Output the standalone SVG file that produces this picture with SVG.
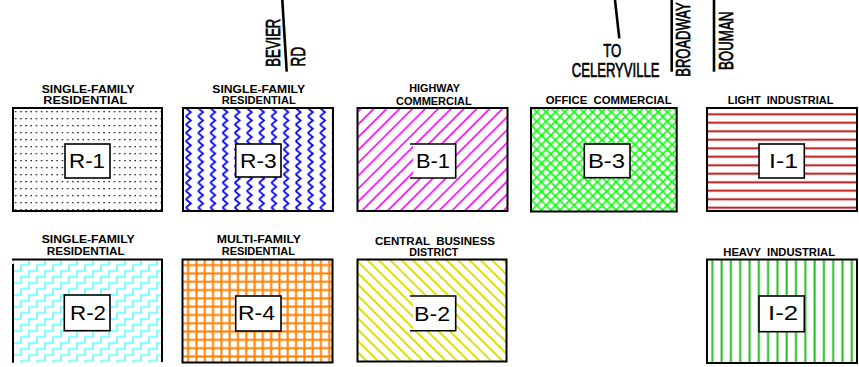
<svg xmlns="http://www.w3.org/2000/svg" width="859" height="367" viewBox="0 0 859 367">
<style>
.frame{fill:none;stroke:#000;stroke-width:2}
.lbox{fill:#fff;stroke:#000;stroke-width:1.6}
.lbl{font-family:"Liberation Sans",Arial,sans-serif;font-size:21px;fill:#000}
.ttl{font-family:"Liberation Sans",Arial,sans-serif;font-size:11.5px;font-weight:bold;fill:#000;white-space:pre}
.road{font-family:"Liberation Sans",Arial,sans-serif;fill:#000;stroke:#000;stroke-width:0.45}
.rl{stroke:#000;stroke-width:2.6;fill:none}
</style>
<defs>
<pattern id="pDots" patternUnits="userSpaceOnUse" width="5.2" height="7" x="13" y="108">
<rect x="2" y="3" width="1.3" height="1.3" fill="#000"/>
</pattern>
<pattern id="pZig" patternUnits="userSpaceOnUse" width="12.2" height="8.3" x="185.3" y="108">
<path d="M0.5,0 L5.5,4.15 L0.5,8.3" fill="none" stroke="#0000ff" stroke-width="1.8"/>
</pattern>
<pattern id="pMag" patternUnits="userSpaceOnUse" width="9.1" height="10" patternTransform="rotate(45)">
<line x1="4.5" y1="-1" x2="4.5" y2="11" stroke="#ff00ff" stroke-width="1.6"/>
</pattern>
<pattern id="pCross" patternUnits="userSpaceOnUse" width="6.6" height="6.6" patternTransform="rotate(45)">
<line x1="3.3" y1="-1" x2="3.3" y2="7.6" stroke="#00ff00" stroke-width="1.6"/>
<line x1="-1" y1="3.3" x2="7.6" y2="3.3" stroke="#00ff00" stroke-width="1.6"/>
</pattern>
<pattern id="pRed" patternUnits="userSpaceOnUse" width="10" height="8.5" x="0" y="110">
<line x1="-1" y1="4.25" x2="11" y2="4.25" stroke="#b80000" stroke-width="1.8"/>
</pattern>
<pattern id="pStair" patternUnits="userSpaceOnUse" width="16" height="12" x="13" y="259">
<path d="M-8,18 H0 V12 H8 V6 H16 V0 H24 V-6 M-8,6 H0 V0 H8 V-6 H16 V-12 H24 V-18 M-8,30 H0 V24 H8 V18 H16 V12 H24 V6" fill="none" stroke="#66ffff" stroke-width="1.7"/>
</pattern>
<pattern id="pGrid" patternUnits="userSpaceOnUse" width="8.3" height="8.3" x="184" y="261">
<line x1="4.15" y1="-1" x2="4.15" y2="9.3" stroke="#ff7f00" stroke-width="2"/>
<line x1="-1" y1="4.15" x2="9.3" y2="4.15" stroke="#ff7f00" stroke-width="2"/>
</pattern>
<pattern id="pYel" patternUnits="userSpaceOnUse" width="8" height="10" patternTransform="rotate(-45)">
<line x1="4" y1="-1" x2="4" y2="11" stroke="#e0e000" stroke-width="2"/>
</pattern>
<pattern id="pGreen" patternUnits="userSpaceOnUse" width="9.3" height="10" x="708" y="0">
<line x1="4.3" y1="-1" x2="4.3" y2="11" stroke="#22bb22" stroke-width="2"/>
</pattern>
</defs>
<rect width="859" height="367" fill="#fff"/>

<g id="roads">
<line class="rl" x1="282.3" y1="0" x2="286.7" y2="71.7"/>
<line class="rl" x1="615" y1="0" x2="619.3" y2="38.3"/>
<line class="rl" x1="671.7" y1="0" x2="671.7" y2="71.7"/>
<line class="rl" x1="714" y1="0" x2="714" y2="71.7"/>
<text class="road" font-size="13.1" transform="translate(280,66.7) rotate(-90) scale(1,1.6)">BEVIER</text>
<text class="road" font-size="13.85" transform="translate(305,66.7) rotate(-90) scale(1,1.5)">RD</text>
<text class="road" font-size="13.2" transform="translate(603.3,56.7) scale(1,1.41)">TO</text>
<text class="road" font-size="13.1" transform="translate(571.7,77.3) scale(1,1.49)">CELERYVILLE</text>
<text class="road" font-size="13" transform="translate(690,76.7) rotate(-90) scale(1,1.61)">BROADWAY</text>
<text class="road" font-size="13.3" transform="translate(733.3,70) rotate(-90) scale(1,1.58)">BOUMAN</text>
</g>

<g id="R-1">
<text class="ttl" x="41.7" y="93.3" textLength="93" lengthAdjust="spacingAndGlyphs">SINGLE-FAMILY</text>
<text class="ttl" x="43.3" y="104.3" textLength="84" lengthAdjust="spacingAndGlyphs">RESIDENTIAL</text>
<rect x="13" y="108" width="149" height="103" fill="url(#pDots)"/>
<rect class="frame" x="13" y="108" width="149" height="103"/>
<rect class="lbox" x="65" y="144" width="45" height="34"/>
<text class="lbl" x="69" y="168.3" textLength="36" lengthAdjust="spacingAndGlyphs">R-1</text>
</g>

<g id="R-3">
<text class="ttl" x="212.3" y="93.3" textLength="92.7" lengthAdjust="spacingAndGlyphs">SINGLE-FAMILY</text>
<text class="ttl" x="221.7" y="104.3" textLength="74" lengthAdjust="spacingAndGlyphs">RESIDENTIAL</text>
<rect x="183" y="108" width="150" height="103" fill="url(#pZig)"/>
<rect class="frame" x="183" y="108" width="150" height="103"/>
<rect class="lbox" x="235.7" y="144" width="45.3" height="33"/>
<text class="lbl" x="240" y="168" textLength="36.7" lengthAdjust="spacingAndGlyphs">R-3</text>
</g>

<g id="B-1">
<text class="ttl" x="409.3" y="92.3" textLength="50.7" lengthAdjust="spacingAndGlyphs">HIGHWAY</text>
<text class="ttl" x="396" y="105" textLength="75.7" lengthAdjust="spacingAndGlyphs">COMMERCIAL</text>
<rect x="357.5" y="108" width="150" height="103" fill="url(#pMag)"/>
<rect class="frame" x="357.5" y="108" width="150" height="103"/>
<rect x="413" y="144" width="42.7" height="34" fill="#fff"/>
<polyline points="410,144 455.7,144 455.7,178 410,178" fill="none" stroke="#000" stroke-width="1.6"/>
<text class="lbl" x="416" y="168.3" textLength="34" lengthAdjust="spacingAndGlyphs">B-1</text>
</g>

<g id="B-3">
<text class="ttl" xml:space="preserve" x="545.7" y="104.3" textLength="126" lengthAdjust="spacingAndGlyphs">OFFICE  COMMERCIAL</text>
<rect x="531" y="108" width="145.7" height="103.5" fill="url(#pCross)"/>
<rect class="frame" x="531" y="108" width="145.7" height="103.5"/>
<rect class="lbox" x="584.3" y="144" width="45.7" height="33.7"/>
<text class="lbl" x="588" y="168.3" textLength="37" lengthAdjust="spacingAndGlyphs">B-3</text>
</g>

<g id="I-1">
<text class="ttl" xml:space="preserve" x="727.7" y="104.3" textLength="105.7" lengthAdjust="spacingAndGlyphs">LIGHT  INDUSTRIAL</text>
<rect x="707" y="108" width="150" height="103" fill="url(#pRed)"/>
<rect class="frame" x="707" y="108" width="150" height="103"/>
<rect class="lbox" x="759" y="144" width="45.3" height="34"/>
<text class="lbl" x="769" y="168.3" textLength="29" lengthAdjust="spacingAndGlyphs">I-1</text>
</g>

<g id="R-2">
<text class="ttl" x="41.7" y="242.7" textLength="93" lengthAdjust="spacingAndGlyphs">SINGLE-FAMILY</text>
<text class="ttl" x="46.7" y="255" textLength="78" lengthAdjust="spacingAndGlyphs">RESIDENTIAL</text>
<rect x="13" y="259.5" width="149" height="103" fill="url(#pStair)"/>
<line x1="12" y1="259.5" x2="163" y2="259.5" stroke="#000" stroke-width="2"/>
<line x1="13" y1="264" x2="13" y2="362.7" stroke="#000" stroke-width="2"/>
<line x1="162" y1="259.5" x2="162" y2="362" stroke="#000" stroke-width="2"/>
<rect class="lbox" x="64.3" y="295" width="45.7" height="35.7"/>
<text class="lbl" x="70" y="320" textLength="36" lengthAdjust="spacingAndGlyphs">R-2</text>
</g>

<g id="R-4">
<text class="ttl" x="216.7" y="242.7" textLength="84.3" lengthAdjust="spacingAndGlyphs">MULTI-FAMILY</text>
<text class="ttl" x="221.7" y="255" textLength="73.3" lengthAdjust="spacingAndGlyphs">RESIDENTIAL</text>
<rect x="182.5" y="259.5" width="150" height="103" fill="url(#pGrid)"/>
<rect class="frame" x="182.5" y="259.5" width="150" height="103"/>
<rect class="lbox" x="235.7" y="296" width="45.3" height="35"/>
<text class="lbl" x="238" y="320" textLength="37" lengthAdjust="spacingAndGlyphs">R-4</text>
</g>

<g id="B-2">
<text class="ttl" xml:space="preserve" x="375" y="245" textLength="120" lengthAdjust="spacingAndGlyphs">CENTRAL  BUSINESS</text>
<text class="ttl" x="409.3" y="256" textLength="49" lengthAdjust="spacingAndGlyphs">DISTRICT</text>
<rect x="357.5" y="259.5" width="149" height="102" fill="url(#pYel)"/>
<rect class="frame" x="357.5" y="259.5" width="149" height="102"/>
<rect x="413" y="296" width="42.7" height="34.7" fill="#fff"/>
<polyline points="410,296 455.7,296 455.7,330.7 410,330.7" fill="none" stroke="#000" stroke-width="1.6"/>
<text class="lbl" x="414" y="320.5" textLength="36" lengthAdjust="spacingAndGlyphs">B-2</text>
</g>

<g id="I-2">
<text class="ttl" xml:space="preserve" x="723.3" y="255.7" textLength="111.7" lengthAdjust="spacingAndGlyphs">HEAVY  INDUSTRIAL</text>
<rect x="707" y="259.5" width="150" height="103.5" fill="url(#pGreen)"/>
<rect class="frame" x="707" y="259.5" width="150" height="103.5"/>
<rect class="lbox" x="759" y="296" width="45.3" height="35.7"/>
<text class="lbl" x="768" y="320" textLength="30" lengthAdjust="spacingAndGlyphs">I-2</text>
</g>
</svg>
